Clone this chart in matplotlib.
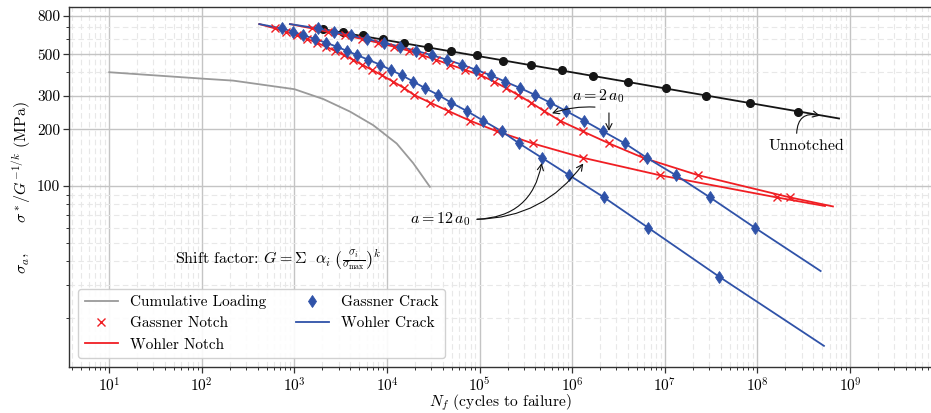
import numpy as np
import matplotlib
matplotlib.use('Agg')
import matplotlib.pyplot as plt
from matplotlib.ticker import LogLocator, NullFormatter

plt.rcParams['font.family'] = 'serif'
plt.rcParams['font.serif'] = ['cmr10']
plt.rcParams['mathtext.fontset'] = 'cm'
plt.rcParams['axes.formatter.use_mathtext'] = True
plt.rcParams['font.size'] = 11

# ---------------- data ----------------
# cumulative loading spectrum
cum_N = [10, 100, 218, 1000, 2050, 3980, 7100, 12700, 19200, 29000]
cum_S = [401, 371, 362, 326, 289, 248, 210, 168, 132, 99]

# stress levels used by the Gassner points (MPa)
levels_S = [685, 657, 630, 602, 575, 548, 521, 494, 467, 440, 413, 386, 358,
            331, 304, 277, 250, 222, 195, 168, 141, 114, 87, 60, 33]

# unnotched
unn_N = [2028, 3304, 5433, 9099, 15350, 27670, 49430, 92900, 180300, 362200,
         769100, 1.694e6, 4.018e6, 1.019e7, 2.773e7, 8.299e7, 2.767e8]
unn_S = [678, 653, 630, 600, 571, 544, 518, 493, 462, 440, 410, 382, 356, 330,
         301, 274, 248]
unn_line_N = [2028, 7.6e8]
unn_line_S = [678, 228]

# crack a = 2 a0 (Gassner points, levels 0..23)
gc2_N = [1800, 2670, 4080, 6060, 9250, 13800, 20500, 30500, 44300, 64400,
         91200, 132500, 187600, 272400, 395500, 574200, 854400, 1.338e6,
         2.146e6, 3.71e6, 6.4e6, 1.316e7, 3.07e7, 9.4e7]
wc2_N = [893] + gc2_N + [4.81e8]
wc2_S = [722] + levels_S[:24] + [35.4]

# crack a = 12 a0 (Gassner points, levels 0..24)
gc12_N = [728, 970, 1245, 1665, 2190, 2860, 3660, 4770, 6270, 8380, 10930,
          14490, 19190, 25480, 35730, 48980, 72400, 109400, 172800, 267900,
          471000, 928000, 2.2e6, 6.62e6, 3.87e7]
wc12_N = [417] + gc12_N + [5.22e8]
wc12_S = [722] + levels_S[:25] + [14.2]

# notch a = 2 a0 (Gassner points, levels 0..22)
gn2_N = [1545, 2302, 3510, 5356, 7970, 11860, 17220, 23800, 33740, 47750,
         69350, 103200, 142600, 192200, 259000, 357600, 494000, 735000,
         1.294e6, 2.51e6, 5.85e6, 2.3e7, 2.24e8]
wn2_N = [893] + gn2_N + [6.53e8]
wn2_S = [722] + levels_S[:23] + [77.9]

# notch a = 12 a0 (Gassner points, levels 0..22)
gn12_N = [615, 809, 1056, 1365, 1750, 2190, 2737, 3424, 4282, 5356, 6870,
          8810, 11580, 15230, 19530, 29040, 45790, 78560, 153800, 376600,
          1.315e6, 8.85e6, 1.61e8]
wn12_N = [417] + gn12_N + [5.36e8]
wn12_S = [722] + levels_S[:23] + [78.3]

xtick_vals = [1e1, 1e2, 1e3, 1e4, 1e5, 1e6, 1e7, 1e8, 1e9]
ytick_vals = [100, 200, 300, 500, 800]
ytick_labels = ['100', '200', '300', '500', '800']

# ---------------- styles ----------------
RED = '#f01e23'
BLUE = '#2f52a8'
GRAY = '#9a9a9a'
BLACK = '#151515'

fig = plt.figure(figsize=(9.31, 4.13), dpi=100)
ax = fig.add_axes([0.0744, 0.1114, 0.9256, 0.8709])
ax.set_xscale('log')
ax.set_yscale('log')
ax.set_xlim(3.7, 7.48e9)
ax.set_ylim(10.97, 886)
ax.set_axisbelow(True)

ax.grid(True, which='major', color='#c4c4c4', lw=1.0, ls='-')
ax.grid(True, which='minor', color='#e8e8e8', lw=0.8, ls=(0, (5, 3)))

h_cum, = ax.plot(cum_N, cum_S, color=GRAY, lw=1.3, label='Cumulative Loading')
ax.plot(unn_line_N, unn_line_S, color=BLACK, lw=1.3)
ax.plot(unn_N, unn_S, 'o', color=BLACK, ms=5.5)

h_wn, = ax.plot(wn2_N, wn2_S, color=RED, lw=1.3, label='Wohler Notch')
ax.plot(wn12_N, wn12_S, color=RED, lw=1.3)
h_wc, = ax.plot(wc2_N, wc2_S, color=BLUE, lw=1.3, label='Wohler Crack')
ax.plot(wc12_N, wc12_S, color=BLUE, lw=1.3)

h_gn, = ax.plot(gn2_N, levels_S[:23], 'x', color=RED, ms=5.5, mew=1.0,
                label='Gassner Notch')
ax.plot(gn12_N, levels_S[:23], 'x', color=RED, ms=5.5, mew=1.0)
h_gc, = ax.plot(gc2_N, levels_S[:24], 'd', color=BLUE, ms=6.5, mew=0.6,
                label='Gassner Crack')
ax.plot(gc12_N, levels_S[:25], 'd', color=BLUE, ms=6.5, mew=0.6)

ax.set_yticks(ytick_vals)
ax.set_yticklabels(ytick_labels)
ax.yaxis.set_minor_locator(LogLocator(base=10, subs=np.arange(1, 10), numticks=50))
ax.yaxis.set_minor_formatter(NullFormatter())
ax.set_xticks(xtick_vals)
ax.xaxis.set_minor_locator(LogLocator(base=10, subs=np.arange(2, 10), numticks=100))
ax.xaxis.set_minor_formatter(NullFormatter())

ax.tick_params(which='major', direction='out', length=4, width=0.9,
               color='#333333', labelsize=11, pad=2.5)
ax.tick_params(which='minor', direction='out', length=2.5, width=0.7,
               color='#333333')
for s in ['left', 'bottom', 'top']:
    ax.spines[s].set_color('#333333')
    ax.spines[s].set_linewidth(1.0)
ax.spines['right'].set_visible(False)

ax.set_xlabel(r'$N_f$ (cycles to failure)', fontsize=11.2, labelpad=-1.5)
ax.set_ylabel(r'$\sigma_a,\qquad \sigma^*/G^{-1/k}$ (MPa)', fontsize=11.5,
              labelpad=3)

# annotations
ap = dict(arrowstyle='->', color='#111111', lw=0.8, shrinkA=0, shrinkB=0)
ax.text(1.89e6, 300, r'$a = 2\,a_0$', ha='center', va='center', fontsize=11.5)
ax.annotate('', xy=(6.04e5, 243), xytext=(1.76e6, 262),
            arrowprops=dict(ap, connectionstyle='arc3,rad=0.1'))
ax.annotate('', xy=(2.49e6, 196), xytext=(2.49e6, 244),
            arrowprops=dict(ap, connectionstyle='arc3,rad=0'))

ax.text(3.76e4, 66.6, r'$a = 12\,a_0$', ha='center', va='center', fontsize=11.5)
ax.annotate('', xy=(4.68e5, 132.4), xytext=(9.35e4, 66.6),
            arrowprops=dict(ap, connectionstyle='arc3,rad=0.4'))
ax.annotate('', xy=(1.315e6, 131.6), xytext=(9.35e4, 66.6),
            arrowprops=dict(ap, connectionstyle='arc3,rad=0.25'))

ax.text(3.4e8, 163.6, 'Unnotched', ha='center', va='center', fontsize=11.5)
ax.annotate('', xy=(4.73e8, 235.9), xytext=(2.65e8, 190.3),
            arrowprops=dict(ap, connectionstyle='arc3,rad=-0.6'))

ax.text(51.2, 40.5,
        r'Shift factor: $G = \Sigma\ \ \alpha_i\ \left(\frac{\sigma_i}{\sigma_{\max}}\right)^k$',
        ha='left', va='center', fontsize=11.5)

leg = ax.legend(handles=[h_cum, h_gn, h_wn, h_gc, h_wc], loc='lower left',
                ncol=2, fontsize=11, frameon=True, fancybox=True,
                framealpha=0.9, edgecolor='#cccccc', handlelength=2.2,
                borderaxespad=0.6, columnspacing=1.9)

fig.savefig('out.png', dpi=100)
